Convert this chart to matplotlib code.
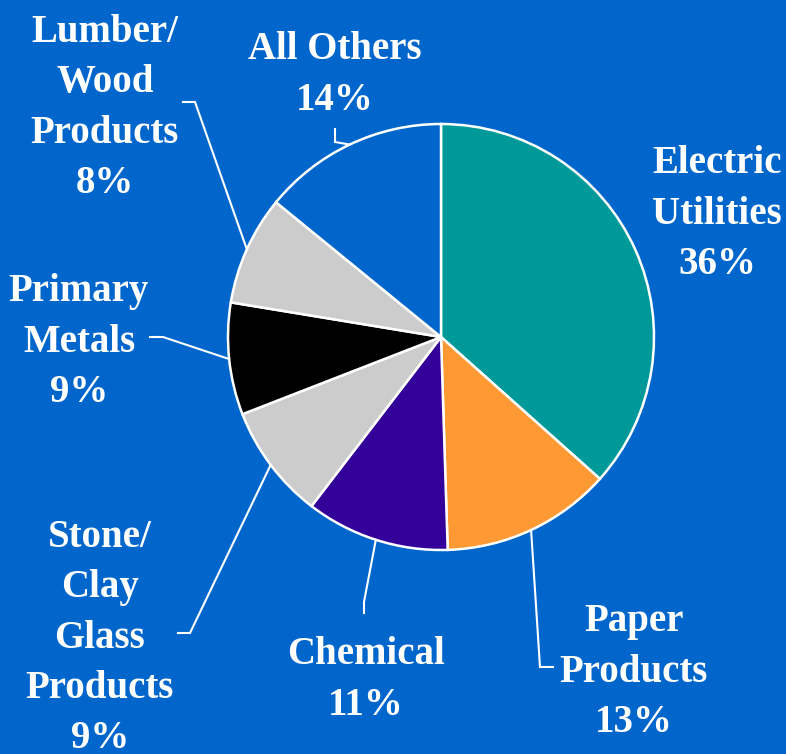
import matplotlib
matplotlib.use("Agg")
import matplotlib.pyplot as plt
import numpy as np

categories = ["Electric\nUtilities", "Paper\nProducts", "Chemical", "Stone/\nClay\nGlass\nProducts",
              "Primary\nMetals", "Lumber/\nWood\nProducts", "All Others"]
# slice sizes
values = [36.6, 12.9, 10.9, 8.7, 8.5, 8.3, 14.1]
# percentages as printed in the labels
pct_labels = ["36%", "13%", "11%", "9%", "9%", "8%", "14%"]
colors = ["#009999", "#FF9933", "#330099", "#CCCCCC", "#000000", "#CCCCCC", "#0066CC"]

BG = "#0066CC"
W, H = 786, 754
fig = plt.figure(figsize=(W / 100, H / 100), dpi=100, facecolor=BG)
ax = fig.add_axes([0, 0, 1, 1])
ax.set_facecolor(BG)

cx, cy, R = 441, H - 337, 213
wedges, _ = ax.pie(values, colors=colors, startangle=90, counterclock=False,
                   center=(cx, cy), radius=R, frame=True,
                   wedgeprops=dict(edgecolor="white", linewidth=1.8))
ax.set_xlim(0, W)
ax.set_ylim(0, H)
ax.set_aspect("equal")
ax.axis("off")

# label layout (pixel coords, y from top): text block center, leader elbow points
layout = [
    dict(x=717, y=214, leader=None),
    dict(x=634, y=672, leader=[(540, 667), (553, 667)]),
    dict(x=366, y=680, leader=[(364, 602), (364, 613)]),
    dict(x=100, y=638, leader=[(190, 633), (178, 633)]),
    dict(x=79, y=342, leader=[(163, 337), (150, 337)]),
    dict(x=105, y=108, leader=[(195, 102), (183, 102)]),
    dict(x=335, y=75, leader=[(335, 142), (335, 129)]),
]

font = dict(family="Liberation Serif", weight="bold", size=28, color="white")
for w, cat, pct, lay in zip(wedges, categories, pct_labels, layout):
    ax.text(lay["x"], H - lay["y"], f"{cat}\n{pct}", ha="center", va="center",
            linespacing=1.47, **font)
    if lay["leader"]:
        ang = np.deg2rad((w.theta1 + w.theta2) / 2)
        sx, sy = cx + R * np.cos(ang), cy + R * np.sin(ang)
        xs = [sx] + [p[0] for p in lay["leader"]]
        ys = [sy] + [H - p[1] for p in lay["leader"]]
        ax.plot(xs, ys, color="white", linewidth=1.5, solid_joinstyle="miter")

fig.savefig("out.png", dpi=100, facecolor=BG)
